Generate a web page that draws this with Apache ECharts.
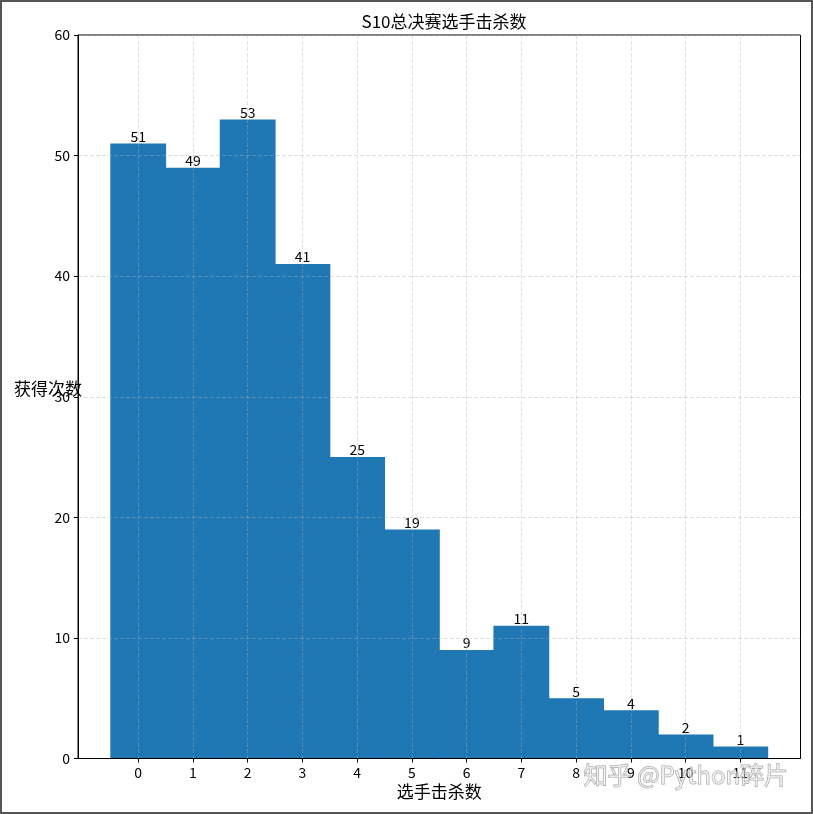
<!DOCTYPE html>
<html>
<head>
<meta charset="utf-8">
<script src="https://cdn.jsdelivr.net/npm/echarts@6/dist/echarts.min.js"></script>
<style>
html,body{margin:0;padding:0;background:#fff;}
#main{width:813px;height:814px;}
</style>
</head>
<body>
<div id="main"></div>
<script>
const kills = [0, 1, 2, 3, 4, 5, 6, 7, 8, 9, 10, 11];
const counts = [51, 49, 53, 41, 25, 19, 9, 11, 5, 4, 2, 1];
const yTicks = [0, 10, 20, 30, 40, 50, 60];
const titleText = 'S10总决赛选手击杀数';
const xName = '选手击杀数';
const yName = '获得次数';
const watermark = '知乎 @Python碎片';

const FONT = '"Noto Sans CJK SC", "Noto Sans", sans-serif';
const chart = echarts.init(document.getElementById('main'));
const gridLine = { show: true, lineStyle: { color: 'rgba(176,176,176,0.5)', type: [4, 2], width: 0.8 } };

chart.setOption({
  animation: false,
  backgroundColor: '#fff',
  title: {
    text: titleText,
    left: 439, top: 8, textAlign: 'center',
    textStyle: { fontFamily: FONT, fontSize: 17, fontWeight: 'normal', color: '#000' }
  },
  grid: {
    left: 78, top: 35, right: 12.5, bottom: 55.5,
    outerBoundsMode: 'none', containLabel: false,
    show: true, borderColor: '#000', borderWidth: 1, backgroundColor: 'transparent'
  },
  xAxis: {
    type: 'value', min: -1.1, max: 12.1, z: 5,
    name: xName, nameLocation: 'middle', nameGap: 25, nameMoveOverlap: false,
    nameTextStyle: { fontFamily: FONT, fontSize: 17, color: '#000', verticalAlign: 'top' },
    axisLine: { show: true, onZero: false, lineStyle: { color: '#000', width: 1 } },
    axisTick: { show: true, inside: false, length: 4, lineStyle: { color: '#000' }, customValues: kills },
    axisLabel: { fontFamily: FONT, fontSize: 14, color: '#000', margin: 7, customValues: kills },
    splitLine: gridLine
  },
  yAxis: {
    type: 'value', min: 0, max: 60, interval: 10, z: 5,
    name: yName, nameLocation: 'middle', nameRotate: 0, nameGap: -4, nameMoveOverlap: false,
    nameTextStyle: { fontFamily: FONT, fontSize: 17, color: '#000', verticalAlign: 'bottom' },
    axisLine: { show: true, onZero: false, lineStyle: { color: '#000', width: 1 } },
    axisTick: { show: true, inside: false, length: 4, lineStyle: { color: '#000' } },
    axisLabel: { fontFamily: FONT, fontSize: 14, color: '#000', margin: 8 },
    splitLine: gridLine
  },
  series: [{
    type: 'bar',
    data: kills.map((k, i) => [k, counts[i]]),
    barWidth: '102%',
    barCategoryGap: '0%',
    itemStyle: { color: '#1f77b4', borderWidth: 0 },
    label: { show: true, position: 'top', distance: 0, color: '#000', fontFamily: FONT, fontSize: 14 }
  }],
  graphic: [
    {
      type: 'rect', z: 100, silent: true,
      shape: { x: 1, y: 1, width: 811, height: 812 },
      style: { fill: 'none', stroke: '#555', lineWidth: 2 }
    },
    {
      type: 'text', z: 100, silent: true, left: 583, top: 762,
      style: { text: watermark, font: '24px ' + FONT, fill: 'rgba(255,255,255,0.55)', stroke: 'rgba(120,120,120,0.7)', lineWidth: 1 }
    }
  ]
});
</script>
</body>
</html>
